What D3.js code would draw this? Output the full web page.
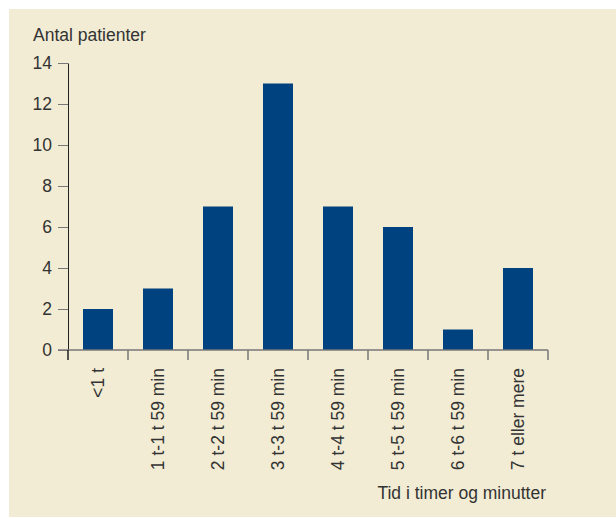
<!DOCTYPE html>
<html>
<head>
<meta charset="utf-8">
<script src="https://cdn.jsdelivr.net/npm/d3@7"></script>
<style>
  body { margin: 0; background: #fff; }
  text { font-family: "Liberation Sans", Arial, sans-serif; fill: #333; }
</style>
</head>
<body>
<div id="chart-area"></div>
<script>
var categories = ["<1 t", "1 t-1 t 59 min", "2 t-2 t 59 min", "3 t-3 t 59 min",
  "4 t-4 t 59 min", "5 t-5 t 59 min", "6 t-6 t 59 min", "7 t eller mere"];
var patients = [2, 3, 7, 13, 7, 6, 1, 4];
var yTicks = [0, 2, 4, 6, 8, 10, 12, 14];

var width = 616;
var height = 518;
var margin = { top: 63, left: 68, right: 68, bottom: 168 };
var chartWidth = 480;
var chartHeight = 287;
var fontSize = "17.5px";

var svg = d3.select("#chart-area")
  .append("svg")
  .attr("width", width)
  .attr("height", height);

svg.append("rect")
  .attr("x", 9).attr("y", 9)
  .attr("width", width - 9).attr("height", 508)
  .attr("fill", "#f2ecd4");

var g = svg.append("g")
  .attr("transform", "translate(" + margin.left + "," + margin.top + ")");

var x = d3.scaleBand()
  .domain(categories)
  .range([0, chartWidth])
  .paddingInner(0.5)
  .paddingOuter(0.25);

var y = d3.scaleLinear()
  .domain([0, 14])
  .range([chartHeight, 0]);

g.selectAll("rect.bar")
  .data(patients).enter()
  .append("rect")
  .attr("class", "bar")
  .attr("x", (d, i) => x(categories[i]))
  .attr("y", d => y(d))
  .attr("width", x.bandwidth())
  .attr("height", d => chartHeight - y(d))
  .attr("fill", "#00417f");

// y axis
var leftAxis = d3.axisLeft(y).tickValues(yTicks).tickSize(10).tickSizeOuter(0).tickPadding(6);
var ya = g.append("g").call(leftAxis);
ya.select(".domain").attr("stroke", "#222");
ya.selectAll(".tick line").attr("stroke", "#777");
ya.selectAll(".tick text").attr("font-size", fontSize).attr("fill", "#333")
  .style("font-family", "'Liberation Sans', Arial, sans-serif");

// x axis: line with ticks at band edges
var step = x.step();
var edges = d3.range(categories.length + 1).map(i => i * step);
var xa = g.append("g").attr("transform", "translate(0," + chartHeight + ")");
xa.append("line")
  .attr("x1", -10).attr("x2", chartWidth)
  .attr("stroke", "#777").attr("stroke-width", 1.5);
xa.selectAll("line.edge")
  .data(edges).enter()
  .append("line")
  .attr("class", "edge")
  .attr("x1", d => d).attr("x2", d => d)
  .attr("y1", 0).attr("y2", 10)
  .attr("stroke", (d, i) => i === 0 ? "#222" : "#777")
  .attr("stroke-width", 1.5);

xa.selectAll("text.cat")
  .data(categories).enter()
  .append("text")
  .attr("class", "cat")
  .attr("transform", d => "translate(" + (x(d) + x.bandwidth() / 2 + 6) + ",18) rotate(-90)")
  .attr("text-anchor", "end")
  .attr("font-size", fontSize)
  .text(d => d);

svg.append("text")
  .attr("x", 33).attr("y", 41)
  .attr("font-size", fontSize)
  .text("Antal patienter");

svg.append("text")
  .attr("x", margin.left + chartWidth - 2).attr("y", 499)
  .attr("text-anchor", "end")
  .attr("font-size", fontSize)
  .text("Tid i timer og minutter");
</script>
</body>
</html>
